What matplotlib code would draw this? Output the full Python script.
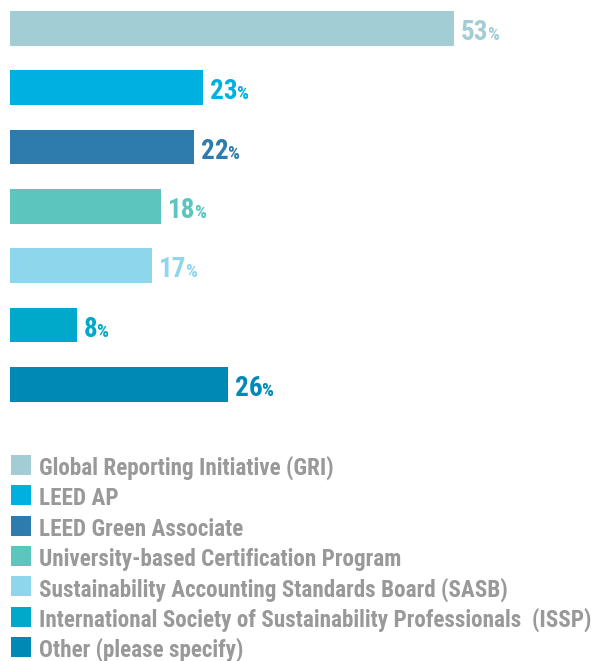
import matplotlib
matplotlib.use("Agg")
import matplotlib.pyplot as plt
from matplotlib.patches import Rectangle

plt.rcParams["font.family"] = ["Roboto Condensed", "DejaVu Sans"]
plt.rcParams["font.weight"] = "bold"

labels = [
    "Global Reporting Initiative (GRI)",
    "LEED AP",
    "LEED Green Associate",
    "University-based Certification Program",
    "Sustainability Accounting Standards Board (SASB)",
    "International Society of Sustainability Professionals  (ISSP)",
    "Other (please specify)",
]
values = [53, 23, 22, 18, 17, 8, 26]
colors = ["#a3cdd4", "#00b0e0", "#2e7bae", "#5cc5bd", "#8dd6ec", "#00a9c9", "#0089b5"]
legend_color = "#999999"

W, H = 597, 661
fig = plt.figure(figsize=(W / 100, H / 100), dpi=100)

# bar area: x 10px -> 596px, rows 59.3px apart
ax = fig.add_axes([10 / W, 1 - 414 / H, 586 / W, 415.3 / H])
ypos = list(range(len(values)))
ax.barh(ypos, values, height=0.585, color=colors)
ax.set_xlim(0, 586 / (444 / 53))
ax.set_ylim(len(values) - 0.5, -0.5)
ax.axis("off")

num_texts = []
for y, v, c in zip(ypos, values, colors):
    t = ax.annotate(str(v), (v, y), xytext=(5, -8.5), textcoords="offset points",
                    fontsize=19.5, color=c, ha="left", va="baseline")
    num_texts.append(t)

fig.canvas.draw()
renderer = fig.canvas.get_renderer()
for t, y, v, c in zip(num_texts, ypos, values, colors):
    bb = t.get_window_extent(renderer)
    x_end, _ = ax.transData.inverted().transform((bb.x1 - 1.5, bb.y0))
    ax.annotate("%", (x_end, y), xytext=(0, -8.5), textcoords="offset points",
                fontsize=13.5, color=c, ha="left", va="baseline")

# legend in pixel coordinates
lax = fig.add_axes([0, 0, 1, 1])
lax.set_xlim(0, W)
lax.set_ylim(H, 0)
lax.axis("off")
for i, (lab, c) in enumerate(zip(labels, colors)):
    cy = 465 + 30.3 * i
    lax.add_patch(Rectangle((11, cy - 10), 20, 20, color=c, lw=0))
    lax.text(39, cy + 10, lab, fontsize=16.7, color=legend_color, ha="left", va="baseline")

fig.savefig("out.png", dpi=100)
